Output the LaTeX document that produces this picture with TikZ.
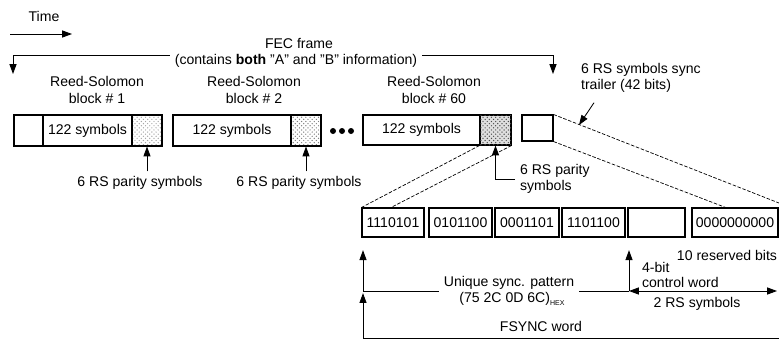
\documentclass[tikz,border=0pt]{standalone}
\usepackage{fontspec}
\setmainfont{Liberation Sans}
\usetikzlibrary{arrows.meta, positioning, patterns, fit}

\begin{document}
\begin{tikzpicture}[x=0.025cm, y=-0.025cm, line width=0.6pt,
  font=\fontsize{10}{11.5}\selectfont,
  cell/.style={draw, line width=0.75pt, inner sep=0pt},
  txt/.style={label={[inner sep=0pt]center:#1}},
  arr/.style={-{Triangle[length=7pt,width=5pt]}},
  both/.style={{Triangle[length=7pt,width=5pt]}-{Triangle[length=7pt,width=5pt]}},
  trace/.style={dash pattern=on 2.5pt off 1.2pt, line width=0.5pt}]
  \useasboundingbox (0,0) rectangle (779,343);

  % Time
  \node (time) at (44,16) {Time};
  \coordinate (t0) at (10,34);
  \coordinate (t1) at (72,34);
  \draw[arr] (t0) -- (t1);

  % FEC frame
  \node (fec) at (299,43) {FEC frame};
  \node (cont) at (296,61) {(contains \textbf{both} "A" and "B" information)};
  \coordinate (fecL) at (13,55);
  \coordinate (fecR) at (553,55);
  \draw[arr] (cont.west |- fecL) -- (fecL) -- ++(0,19);
  \draw[arr] (cont.east |- fecR) -- (fecR) -- ++(0,19);

  % Reed-Solomon blocks
  \node[align=center] (rs1) at (97,90) {Reed-Solomon\\block \# 1};
  \node[align=center] (rs2) at (254,90) {Reed-Solomon\\block \# 2};
  \node[align=center] (rs60) at (434,90) {Reed-Solomon\\block \# 60};
  \node[cell, fit={(14,115) (43,146)}] (b1h) {};
  \node[cell, fit={(43,115) (132,146)}, txt=122 symbols] (b1d) {};
  \node[cell, fit={(132,115) (162,146)}, pattern=crosshatch dots, pattern color=gray!70] (b1p) {};
  \node[cell, fit={(173,115) (291,146)}, txt=122 symbols] (b2d) {};
  \node[cell, fit={(291,115) (321,146)}, pattern=crosshatch dots, pattern color=gray] (b2p) {};
  \node[cell, fit={(363,115) (480,145)}, txt=122 symbols] (b60d) {};
  \node[cell, fit={(480,115) (511,145)}, fill=gray!25,
    postaction={pattern=crosshatch dots, pattern color=gray!60!black}] (b60p) {};
  \node[cell, fit={(522,115) (553,141)}] (tr) {};
  \foreach \x in {333,342,351} \fill (\x,131) circle (3);

  % Parity labels
  \node (p1) at (140,183) {6 RS parity symbols};
  \node (p2) at (299,183) {6 RS parity symbols};
  \node[align=left, anchor=west] (p60) at (515,179) {6 RS parity\\symbols};
  \draw[arr] (p1.north -| b1p) -- (b1p.south);
  \draw[arr] (p2.north -| b2p) -- (b2p.south);
  \draw[arr] (p60.west) -| (b60p.south);

  % Sync trailer
  \node[align=left, anchor=west] (tl) at (576,78) {6 RS symbols sync\\trailer (42 bits)};
  \coordinate (trtip) at (579,125);
  \draw[arr] ([shift={(18,5)}]tl.south west) -- (trtip);

  % FSYNC word
  \node[cell, fit={(362,208) (424,237)}, txt=1110101] (s1) {};
  \node[cell, fit={(429,208) (492,237)}, txt=0101100] (s2) {};
  \node[cell, fit={(495,208) (559,237)}, txt=0001101] (s3) {};
  \node[cell, fit={(562,208) (625,237)}, txt=1101100] (s4) {};
  \node[cell, fit={(628,208) (685,237)}] (s5) {};
  \node[cell, fit={(692,208) (778,237)}, txt=0000000000] (s6) {};

  % Expansion lines
  \coordinate (d1) at (779,203);
  \coordinate (d2) at (727,208);
  \coordinate (d3) at (390,208);
  \draw[trace] (tr.north east) -- (d1);
  \draw[trace] (tr.south east) -- (d2);
  \draw[trace] (b60p.south west) -- (s1.north west);
  \draw[trace] (b60p.south east) -- (d3);

  % Field labels
  \node (rb) at (727,255) {10 reserved bits};
  \node[align=left, anchor=west, font=\fontsize{10}{10.5}\selectfont] (cwl) at (637,275) {4-bit\\control word};
  \node (uniq) at (509,283) {Unique sync. pattern};
  \node (hex) at (512,299) {(75 2C 0D 6C)\raisebox{-0.5ex}{\tiny HEX}};
  \node (rs) at (697,304) {2 RS symbols};
  \node (fw) at (541,326) {FSYNC word};
  \coordinate (fs) at (363,291);
  \coordinate (cw) at (629,291);
  \coordinate (rsEnd) at (777,291);
  \coordinate (fb) at (363,338);
  \coordinate (fbR) at (779,338);
  \draw[arr, shorten >=9pt] (fs) -- (fs |- s1.south);
  \draw[arr, shorten >=9pt] (cw) -- (cw |- s5.south);
  \draw (fs) -- (uniq.west |- fs);
  \draw (uniq.east |- fs) -- (cw);
  \draw[both] (cw) -- (rsEnd);
  \draw (fb) -- (fbR);
  \draw[arr, shorten >=1.5pt] (fb) -- (fs);
\end{tikzpicture}
\end{document}
